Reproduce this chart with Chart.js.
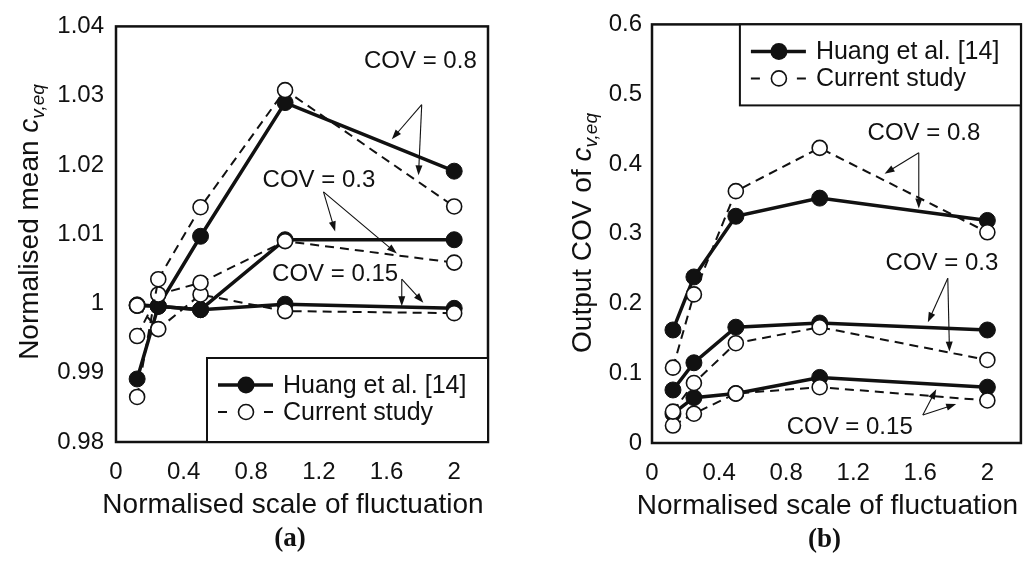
<!DOCTYPE html>
<html>
<head>
<meta charset="utf-8">
<script src="https://cdn.jsdelivr.net/npm/chart.js@4.4.1/dist/chart.umd.min.js"></script>
<style>
html,body{margin:0;padding:0;background:#fff;}
#wrap{position:relative;width:1030px;height:565px;overflow:hidden;}
canvas{position:absolute;top:0;}
#ca{left:0;}
#cb{left:515px;}
</style>
</head>
<body>
<div id="wrap">
  <canvas id="ca" width="515" height="565"></canvas>
  <canvas id="cb" width="515" height="565"></canvas>
</div>
<script>
// Normalised scale of fluctuation (x) and axis ticks
const scaleVals = [0.125, 0.25, 0.5, 1, 2];
const xTicks = [0, 0.4, 0.8, 1.2, 1.6, 2];
const yTicksA = [0.98, 0.99, 1, 1.01, 1.02, 1.03, 1.04];
const yTicksB = [0, 0.1, 0.2, 0.3, 0.4, 0.5, 0.6];

// (a) normalised mean c_v,eq
const huangA08 = [0.9891, 0.9996, 1.0097, 1.0290, 1.0191];
const huangA03 = [0.9997, 0.9996, 0.9991, 1.0092, 1.0092];
const huangA015 = [0.9998, 0.9996, 0.9991, 0.9999, 0.9993];
const currentA08 = [0.9865, 1.0035, 1.0139, 1.0308, 1.0140];
const currentA03 = [0.9953, 1.0013, 1.0030, 1.0090, 1.0059];
const currentA015 = [0.9997, 0.9963, 1.0013, 0.9989, 0.9986];

// (b) output COV of c_v,eq
const huangB08 = [0.162, 0.238, 0.325, 0.351, 0.319];
const huangB03 = [0.076, 0.115, 0.166, 0.172, 0.162];
const huangB015 = [0.042, 0.065, 0.071, 0.094, 0.080];
const currentB08 = [0.108, 0.213, 0.361, 0.423, 0.302];
const currentB03 = [0.045, 0.086, 0.143, 0.166, 0.119];
const currentB015 = [0.025, 0.042, 0.071, 0.080, 0.061];

const legendLabels = ['Huang et al. [14]', 'Current study'];

// COV labels with their arrows, in data units
const notesA = [
  {text:'COV = 0.8', at:[1.80, 1.0349], from:[1.808, 1.0287], to:[[1.631, 1.0237], [1.789, 1.0185]]},
  {text:'COV = 0.3', at:[1.20, 1.0178], from:[1.227, 1.0161], to:[[1.296, 1.0104], [1.661, 1.0072]]},
  {text:'COV = 0.15', at:[1.296, 1.0042], from:[1.69, 1.0035], to:[[1.69, 0.9996], [1.818, 1.0001]]}
];
const notesB = [
  {text:'COV = 0.8', at:[1.622, 0.444], from:[1.591, 0.416], to:[[1.387, 0.386], [1.591, 0.336]]},
  {text:'COV = 0.3', at:[1.729, 0.257], from:[1.764, 0.236], to:[[1.645, 0.173], [1.774, 0.131]]},
  {text:'COV = 0.15', at:[1.179, 0.023], from:[1.615, 0.040], to:[[1.695, 0.077], [1.814, 0.056]]}
];

const SANS = "'Liberation Sans', Arial, sans-serif";
const INK = '#111';

function series(label, vals, dashed){
  return {
    label,
    data: scaleVals.map((x,i)=>({x, y: vals[i]})),
    borderColor: INK,
    borderWidth: dashed ? 2 : 3.5,
    borderDash: dashed ? [9,6] : [],
    pointRadius: dashed ? 7.5 : 8,
    pointHoverRadius: dashed ? 7.5 : 8,
    pointBorderWidth: dashed ? 1.6 : 1,
    pointBackgroundColor: dashed ? '#fff' : INK,
    pointBorderColor: INK,
    order: dashed ? 0 : 1,
    tension: 0,
    fill: false,
    clip: false
  };
}

function arrow(ctx, x1, y1, x2, y2){
  const a = Math.atan2(y2-y1, x2-x1), L = 10, W = 3.5;
  ctx.beginPath();
  ctx.moveTo(x1, y1);
  ctx.lineTo(x2 - L*0.7*Math.cos(a), y2 - L*0.7*Math.sin(a));
  ctx.stroke();
  ctx.beginPath();
  ctx.moveTo(x2, y2);
  ctx.lineTo(x2 - L*Math.cos(a) + W*Math.sin(a), y2 - L*Math.sin(a) - W*Math.cos(a));
  ctx.lineTo(x2 - L*Math.cos(a) - W*Math.sin(a), y2 - L*Math.sin(a) + W*Math.cos(a));
  ctx.closePath();
  ctx.fill();
}

// frame, notes, legend and titles
const decor = {
  id: 'decor',
  beforeDatasetsDraw(chart, args, o){
    const {ctx, chartArea:a} = chart;
    ctx.save();
    ctx.strokeStyle = INK; ctx.lineWidth = 2.5;
    ctx.strokeRect(a.left, a.top, a.right-a.left, a.bottom-a.top);
    ctx.restore();
  },
  afterDatasetsDraw(chart, args, o){
    const {ctx, chartArea:a, scales:{x, y}} = chart;
    ctx.save();
    ctx.fillStyle = INK; ctx.strokeStyle = INK;

    // COV notes
    ctx.font = '24px ' + SANS;
    ctx.textAlign = 'center'; ctx.textBaseline = 'middle';
    ctx.lineWidth = 1.1;
    o.notes.forEach(n=>{
      ctx.fillText(n.text, x.getPixelForValue(n.at[0]), y.getPixelForValue(n.at[1]));
      const fx = x.getPixelForValue(n.from[0]), fy = y.getPixelForValue(n.from[1]);
      n.to.forEach(t=> arrow(ctx, fx, fy, x.getPixelForValue(t[0]), y.getPixelForValue(t[1])));
    });

    // legend box
    const lw = 281, lh = o.legendH;
    const lx = a.right - lw, ly = o.legendTop ? a.top : a.bottom - lh;
    ctx.fillStyle = '#fff';
    ctx.fillRect(lx, ly, lw, lh);
    ctx.lineWidth = 2; ctx.strokeStyle = INK;
    ctx.strokeRect(lx, ly, lw, lh);
    ctx.fillStyle = INK;
    ctx.textAlign = 'left';
    ctx.font = '25px ' + SANS;
    const rows = [ly + 27, ly + 54];
    // solid row
    ctx.lineWidth = 3.5;
    ctx.beginPath(); ctx.moveTo(lx+11, rows[0]); ctx.lineTo(lx+66, rows[0]); ctx.stroke();
    ctx.beginPath(); ctx.arc(lx+39, rows[0], 8.5, 0, Math.PI*2); ctx.fill();
    ctx.fillText(legendLabels[0], lx+76, rows[0]+1);
    // dashed row
    ctx.lineWidth = 2;
    ctx.beginPath(); ctx.moveTo(lx+11, rows[1]); ctx.lineTo(lx+20, rows[1]);
    ctx.moveTo(lx+57, rows[1]); ctx.lineTo(lx+66, rows[1]); ctx.stroke();
    ctx.beginPath(); ctx.arc(lx+39, rows[1], 7.5, 0, Math.PI*2);
    ctx.fillStyle = '#fff'; ctx.fill(); ctx.lineWidth = 1.6; ctx.stroke();
    ctx.fillStyle = INK;
    ctx.fillText(legendLabels[1], lx+76, rows[1]+1);

    // x title and panel tag
    const cx = (a.left + a.right)/2;
    ctx.textAlign = 'center'; ctx.textBaseline = 'alphabetic';
    ctx.font = '28px ' + SANS;
    ctx.fillText('Normalised scale of fluctuation', cx - 9, a.bottom + 71);
    ctx.font = 'bold 27px "Liberation Serif", "Times New Roman", serif';
    ctx.fillText(o.tag, cx - 12, a.bottom + 104);

    // rotated y title with italic subscript
    ctx.translate(o.yTitleX, o.yTitleY);
    ctx.rotate(-Math.PI/2);
    const parts = [
      {t:o.yTitle, f:'28px ' + SANS, dy:0},
      {t:'c', f:'italic 28px ' + SANS, dy:0},
      {t:'v,eq', f:'italic 19px ' + SANS, dy:6}
    ];
    let total = 0;
    parts.forEach(p=>{ ctx.font = p.f; p.w = ctx.measureText(p.t).width; total += p.w; });
    let px = -total/2;
    ctx.textAlign = 'left';
    parts.forEach(p=>{ ctx.font = p.f; ctx.fillText(p.t, px, p.dy); px += p.w; });
    ctx.restore();
  }
};

function makeChart(id, sets, yMin, yMax, yTicks, pad, yW, xH, yPad, decorOpts){
  const tickFont = {family: SANS, size: 24};
  return new Chart(document.getElementById(id), {
    type: 'line',
    data: {datasets: sets},
    options: {
      responsive: false,
      animation: false,
      events: [],
      layout: {padding: pad},
      plugins: {legend: {display: false}, tooltip: {enabled: false}, decor: decorOpts},
      scales: {
        x: {
          type: 'linear', min: 0, max: 2.2,
          afterBuildTicks: s => { s.ticks = xTicks.map(v => ({value: v})); },
          afterFit: s => { s.height = xH; },
          grid: {display: false, drawTicks: false},
          border: {display: false},
          ticks: {font: tickFont, color: INK, padding: 16, maxRotation: 0, autoSkip: false, callback: v => String(v)}
        },
        y: {
          min: yMin, max: yMax,
          afterBuildTicks: s => { s.ticks = yTicks.map(v => ({value: v})); },
          afterFit: s => { s.width = yW; },
          grid: {display: false, drawTicks: false},
          border: {display: false},
          ticks: {font: tickFont, color: INK, padding: yPad, autoSkip: false, callback: v => String(v)}
        }
      }
    },
    plugins: [decor]
  });
}

makeChart('ca', [
  series('Current COV 0.8', currentA08, true),
  series('Current COV 0.3', currentA03, true),
  series('Current COV 0.15', currentA015, true),
  series('Huang COV 0.8', huangA08, false),
  series('Huang COV 0.3', huangA03, false),
  series('Huang COV 0.15', huangA015, false)
], 0.98, 1.04, yTicksA, {left: 0, top: 23, right: 27, bottom: 0}, 116, 123, 12,
  {notes: notesA, legendH: 84, legendTop: false, tag: '(a)', yTitle: 'Normalised mean ', yTitleX: 38, yTitleY: 222});

makeChart('cb', [
  series('Current COV 0.8', currentB08, true),
  series('Current COV 0.3', currentB03, true),
  series('Current COV 0.15', currentB015, true),
  series('Huang COV 0.8', huangB08, false),
  series('Huang COV 0.3', huangB03, false),
  series('Huang COV 0.15', huangB015, false)
], 0, 0.6, yTicksB, {left: 0, top: 16, right: 7, bottom: 0}, 137, 122, 10,
  {notes: notesB, legendH: 81, legendTop: true, tag: '(b)', yTitle: 'Output COV of ', yTitleX: 76, yTitleY: 233});
</script>
</body>
</html>
